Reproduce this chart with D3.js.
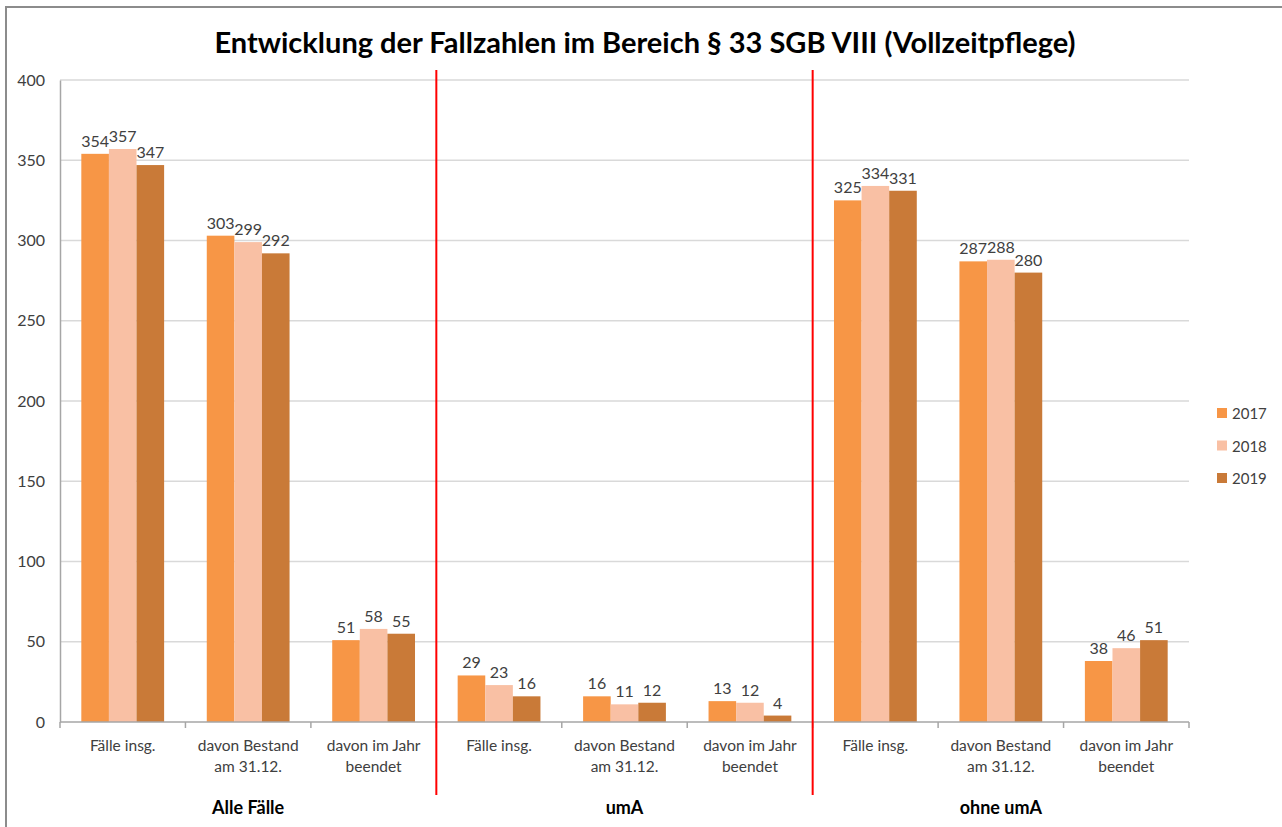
<!DOCTYPE html>
<html>
<head>
<meta charset="utf-8">
<script src="https://cdn.jsdelivr.net/npm/d3@7"></script>
<style>
  body { margin: 0; background: #fff; }
  text { font-family: Lato, "Open Sans", sans-serif; }
</style>
</head>
<body>
<div id="chart-container"></div>
<script>
// categories and values
const groups = ['Alle Fälle', 'umA', 'ohne umA'];
const subCats = [['Fälle insg.'], ['davon Bestand', 'am 31.12.'], ['davon im Jahr', 'beendet']];
const years = ['2017', '2018', '2019'];
const values2017 = [354, 303, 51, 29, 16, 13, 325, 287, 38];
const values2018 = [357, 299, 58, 23, 11, 12, 334, 288, 46];
const values2019 = [347, 292, 55, 16, 12, 4, 331, 280, 51];
const yTicks = [0, 50, 100, 150, 200, 250, 300, 350, 400];
const colors = ['#F79646', '#F9C0A4', '#C97A38'];

const series = [values2017, values2018, values2019];
const cats = d3.range(9);

const svgWidth = 1282, svgHeight = 827;
const margin = {top: 80, right: 93, bottom: 105, left: 60};
const width = svgWidth - margin.left - margin.right;
const height = svgHeight - margin.top - margin.bottom;

const root = d3.select('#chart-container')
  .append('svg')
  .attr('width', svgWidth)
  .attr('height', svgHeight);

// frame
root.append('rect')
  .attr('x', 6).attr('y', 7)
  .attr('width', svgWidth + 10).attr('height', svgHeight + 10)
  .attr('fill', 'none')
  .attr('stroke', '#8c8c8c')
  .attr('stroke-width', 2);

// title
root.append('text')
  .attr('x', 645).attr('y', 53)
  .attr('text-anchor', 'middle')
  .style('font-size', '29px')
  .style('font-weight', 'bold')
  .attr('fill', '#000')
  .text('Entwicklung der Fallzahlen im Bereich § 33 SGB VIII (Vollzeitpflege)');

const svg = root.append('g')
  .attr('transform', `translate(${margin.left},${margin.top})`);

const yScale = d3.scaleLinear().domain([0, 400]).range([height, 0]);
const xScale = d3.scaleBand().domain(cats).range([0, width]).paddingInner(0.34).paddingOuter(0.17);
const x1 = d3.scaleBand().domain(d3.range(3)).range([0, xScale.bandwidth()]);
const slot = width / 9;

// gridlines
svg.append('g')
  .selectAll('line')
  .data(yTicks.slice(1))
  .enter()
  .append('line')
  .attr('x1', 0).attr('x2', width)
  .attr('y1', d => yScale(d)).attr('y2', d => yScale(d))
  .attr('stroke', '#d9d9d9')
  .attr('stroke-width', 1.5);

// y axis
const yAxis = svg.append('g')
  .call(d3.axisLeft(yScale).tickValues(yTicks).tickSize(0).tickPadding(15));
yAxis.select('.domain').attr('stroke', '#a6a6a6').attr('stroke-width', 1.5);
yAxis.selectAll('text').style('font-size', '16px').attr('fill', '#404040');

// bars
series.forEach((vals, s) => {
  svg.append('g')
    .selectAll('rect')
    .data(cats)
    .enter()
    .append('rect')
    .attr('x', d => xScale(d) + x1(s))
    .attr('y', d => yScale(vals[d]))
    .attr('width', x1.bandwidth())
    .attr('height', d => height - yScale(vals[d]))
    .attr('fill', colors[s]);

  svg.append('g')
    .selectAll('text')
    .data(cats)
    .enter()
    .append('text')
    .attr('x', d => xScale(d) + x1(s) + x1.bandwidth() / 2)
    .attr('y', d => yScale(vals[d]) - 7)
    .attr('text-anchor', 'middle')
    .style('font-size', '16px')
    .attr('fill', '#404040')
    .text(d => vals[d]);
});

// x axis line and ticks
svg.append('line')
  .attr('x1', 0).attr('x2', width)
  .attr('y1', height).attr('y2', height)
  .attr('stroke', '#a6a6a6').attr('stroke-width', 1.5);
svg.append('g')
  .selectAll('line')
  .data(d3.range(10))
  .enter()
  .append('line')
  .attr('x1', d => d * slot).attr('x2', d => d * slot)
  .attr('y1', height).attr('y2', height + 6)
  .attr('stroke', '#a6a6a6').attr('stroke-width', 1.5);

// category labels
const catLabels = svg.append('g')
  .selectAll('text')
  .data(cats)
  .enter()
  .append('text')
  .attr('text-anchor', 'middle')
  .attr('transform', d => `translate(${xScale(d) + xScale.bandwidth() / 2},${height + 29})`)
  .style('font-size', '15.5px')
  .attr('fill', '#404040');
catLabels.each(function(d) {
  const lines = subCats[d % 3];
  lines.forEach((l, i) => {
    d3.select(this).append('tspan')
      .attr('x', 0)
      .attr('dy', i === 0 ? 0 : 21)
      .text(l);
  });
});

// group labels
svg.append('g')
  .selectAll('text')
  .data(groups)
  .enter()
  .append('text')
  .attr('x', (d, i) => (i * 3 + 1.5) * slot)
  .attr('y', height + 92)
  .attr('text-anchor', 'middle')
  .style('font-size', '18px')
  .style('font-weight', 'bold')
  .attr('fill', '#000')
  .text(d => d);

// red separators
svg.append('g')
  .selectAll('line')
  .data([3, 6])
  .enter()
  .append('line')
  .attr('x1', d => d * slot).attr('x2', d => d * slot)
  .attr('y1', -10).attr('y2', height + 73)
  .attr('stroke', '#ff0000')
  .attr('stroke-width', 2);

// legend
const legend = root.append('g')
  .selectAll('g')
  .data(years)
  .enter()
  .append('g')
  .attr('transform', (d, i) => `translate(1217,${408 + i * 32.5})`);
legend.append('rect')
  .attr('width', 10).attr('height', 10)
  .attr('fill', (d, i) => colors[i]);
legend.append('text')
  .attr('x', 15).attr('y', 11)
  .style('font-size', '15px')
  .attr('fill', '#404040')
  .text(d => d);
</script>
</body>
</html>
